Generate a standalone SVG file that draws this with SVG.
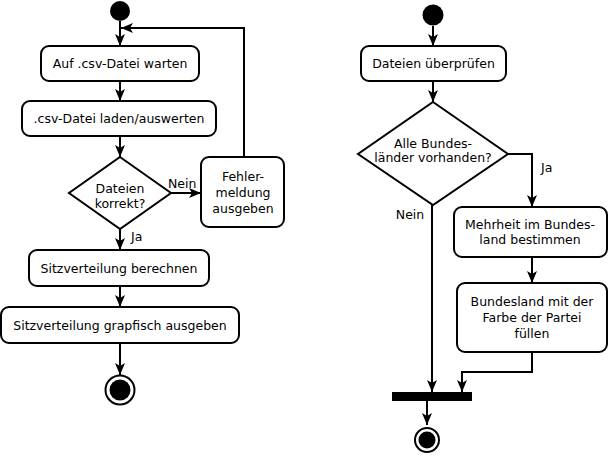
<svg xmlns="http://www.w3.org/2000/svg" width="609" height="458" viewBox="0 0 609 458">
<style>
.box{fill:#fff;stroke:#000;stroke-width:2}
.t{font-family:"DejaVu Sans",sans-serif;font-size:12.5px;fill:#000;text-anchor:middle}
.l{font-family:"DejaVu Sans",sans-serif;font-size:12.5px;fill:#000}
.c{fill:none;stroke:#000;stroke-width:2;marker-end:url(#arr)}
</style>
<defs>
<marker id="arr" viewBox="0 0 12 10" refX="12" refY="5" markerWidth="12" markerHeight="10" markerUnits="userSpaceOnUse" orient="auto">
<path d="M0,0 L12,5 L0,10 L3,5 Z" fill="#000"/>
</marker>
</defs>
<rect width="609" height="458" fill="#fff"/>
<g id="connectors">
<line class="c" x1="120" y1="21" x2="120" y2="46"/>
<line class="c" x1="120" y1="81" x2="120" y2="101"/>
<line class="c" x1="120" y1="136" x2="120" y2="157"/>
<line class="c" x1="171" y1="193" x2="201" y2="193"/>
<polyline class="c" points="244,157 244,28 121,28"/>
<line class="c" x1="120" y1="229" x2="120" y2="250"/>
<line class="c" x1="120" y1="286" x2="120" y2="307"/>
<line class="c" x1="120" y1="343" x2="120" y2="375"/>
<line class="c" x1="433" y1="26" x2="433" y2="46"/>
<line class="c" x1="433" y1="81" x2="433" y2="102"/>
<polyline class="c" points="508,154 532,154 532,207"/>
<line class="c" x1="432" y1="205" x2="432" y2="392"/>
<line class="c" x1="532" y1="257" x2="532" y2="283"/>
<polyline class="c" points="532,352 532,372 462,372 462,392"/>
<line class="c" x1="427" y1="401" x2="427" y2="425"/>
<text class="l" x="168" y="188">Nein</text>
<text class="l" x="131" y="241">Ja</text>
<text class="l" x="541" y="172">Ja</text>
<text class="t" x="410" y="219">Nein</text>
</g>
<g id="start1"><circle cx="120" cy="11" r="10" fill="#000"/></g>
<g id="n1"><rect class="box" x="41" y="46" width="158" height="35" rx="8"/><text class="t" x="120" y="67.5">Auf .csv-Datei warten</text></g>
<g id="n2"><rect class="box" x="22" y="101" width="194" height="35" rx="8"/><text class="t" x="119" y="122.5">.csv-Datei laden/auswerten</text></g>
<g id="d1"><polygon class="box" points="120,157 171,193 120,229 69,193"/><text class="t" x="120" y="192.5">Dateien</text><text class="t" x="120" y="207.5">korrekt?</text></g>
<g id="n3"><rect class="box" x="201" y="157" width="83" height="70" rx="8"/><text class="t" x="243" y="181">Fehler-</text><text class="t" x="243" y="197">meldung</text><text class="t" x="243" y="213">ausgeben</text></g>
<g id="n4"><rect class="box" x="29" y="250" width="180" height="36" rx="8"/><text class="t" x="119" y="272.5">Sitzverteilung berechnen</text></g>
<g id="n5"><rect class="box" x="1" y="307" width="238" height="36" rx="8"/><text class="t" x="120" y="329.5">Sitzverteilung grapfisch ausgeben</text></g>
<g id="end1"><circle cx="120" cy="390" r="14.5" fill="#fff" stroke="#000" stroke-width="2"/><circle cx="120" cy="390" r="10.5" fill="#000"/></g>
<g id="start2"><circle cx="433" cy="15" r="10.5" fill="#000"/></g>
<g id="m1"><rect class="box" x="361" y="46" width="145" height="35" rx="8"/><text class="t" x="433.5" y="67.5">Dateien überprüfen</text></g>
<g id="d2"><polygon class="box" points="433,102 508,154 433,205 358,154"/><text class="t" x="433" y="147.5">Alle Bundes-</text><text class="t" x="433" y="162">länder vorhanden?</text></g>
<g id="m2"><rect class="box" x="454" y="207" width="153" height="50" rx="8"/><text class="t" x="530" y="229">Mehrheit im Bundes-</text><text class="t" x="530" y="244">land bestimmen</text></g>
<g id="m3"><rect class="box" x="457" y="283" width="150" height="69" rx="8"/><text class="t" x="532" y="306">Bundesland mit der</text><text class="t" x="532" y="322">Farbe der Partei</text><text class="t" x="532" y="337.5">füllen</text></g>
<g id="bar"><rect x="392" y="392" width="80" height="9" fill="#000"/></g>
<g id="end2"><circle cx="427" cy="440" r="12" fill="#fff" stroke="#000" stroke-width="2"/><circle cx="427" cy="440" r="8.5" fill="#000"/></g>
</svg>
